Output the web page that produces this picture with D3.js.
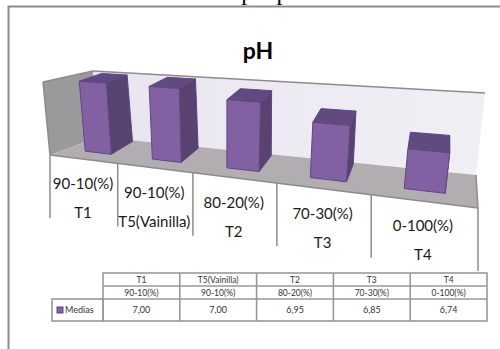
<!DOCTYPE html>
<html>
<head>
<meta charset="utf-8">
<script src="https://cdn.jsdelivr.net/npm/d3@7"></script>
<style>
    html, body { margin: 0; padding: 0; background: #fff; overflow: hidden; }
    svg { display: block; }
    text { font-family: Lato, "Open Sans", sans-serif; }
</style>
</head>
<body>
<div id="chart"></div>
<script>
const tratamientos = ["T1", "T5(Vainilla)", "T2", "T3", "T4"];
const proporciones = ["90-10(%)", "90-10(%)", "80-20(%)", "70-30(%)", "0-100(%)"];
const medias = [7.00, 7.00, 6.95, 6.85, 6.74];
const mediasTexto = ["7,00", "7,00", "6,95", "6,85", "6,74"];
const serie = "Medias";
const titulo = "pH";
const encabezado = "Gráfico 4. Análisis de pH para cada tratamiento";

const width = 500, height = 349;

let svg = d3.select("#chart").append("svg")
    .attr("width", width)
    .attr("height", height);

// scales, both run 0..1 and go through project() below
let u = d3.scaleBand().domain(tratamientos).range([0, 1]).paddingInner(0.6).paddingOuter(0.3);
let uEje = d3.scaleBand().domain(tratamientos).range([0, 1]);
let h = d3.scaleLinear().domain([6.5, 7.01]).range([0, 1]);

// corners of the 3d box as they land on screen
const floorFL = [50, 155], floorFR = [478, 208], floorBL = [100, 137], floorBR = [476, 175];
const topFL = [43, 82], topFR = [490, 118], topBL = [93, 71], topBR = [485, 93];

const lerp = (a, b, t) => [a[0] + (b[0] - a[0]) * t, a[1] + (b[1] - a[1]) * t];
const bilerp = (fl, fr, bl, br, t, d) => lerp(lerp(fl, fr, t), lerp(bl, br, t), d);

// x gets closer to the viewer on the right
const k = 1.33;
const curve = x => x / (k - (k - 1) * x);

function place(t, d, z) {
    return lerp(bilerp(floorFL, floorFR, floorBL, floorBR, t, d),
                bilerp(topFL, topFR, topBL, topBR, t, d), z);
}
const project = (x, d, z) => place(curve(x), d, z);

// bars lean a bit less to the right going back than the box does
const d0 = 0.33, d1 = 0.95;
function projectBar(x, d, z) {
    let t = curve(x);
    return place(t - 0.03 * (d - d0) * (1 - t), d, z);
}

const poly = pts => pts.map(p => p.join(",")).join(" ");

// header line cut off by the page edge
svg.append("text")
    .attr("x", 26)
    .attr("y", 0)
    .style("font-family", "'Liberation Serif', serif")
    .style("font-size", "24px")
    .text(encabezado);

// outer frame
svg.append("path")
    .attr("d", `M8.5,${height} V6.5 H${width}`)
    .attr("fill", "none")
    .attr("stroke", "#8c8c8c")
    .attr("stroke-width", 2);

svg.append("text")
    .attr("x", 258)
    .attr("y", 59)
    .attr("text-anchor", "middle")
    .style("font-size", "23px")
    .style("font-weight", "bold")
    .text(titulo);

// walls and floor
let defs = svg.append("defs");
let grad = defs.append("linearGradient").attr("id", "fondo");
grad.append("stop").attr("offset", "0%").attr("stop-color", "#e8e5ee");
grad.append("stop").attr("offset", "100%").attr("stop-color", "#f1eff6");

svg.append("polygon")
    .attr("points", poly([topFL, topBL, floorBL, floorFL]))
    .attr("fill", "#9a999b");
svg.append("polygon")
    .attr("points", poly([topBL, topBR, floorBR, floorBL]))
    .attr("fill", "url(#fondo)");
svg.append("polygon")
    .attr("points", poly([floorFL, floorFR, floorBR, floorBL]))
    .attr("fill", "#b1adb1");

let grey = [[topFL, topBL], [topBL, topBR], [floorFL, floorFR], [floorFR, floorBR], [topFL, floorFL]];
svg.append("g").selectAll("line")
    .data(grey)
    .join("line")
    .attr("x1", d => d[0][0])
    .attr("y1", d => d[0][1])
    .attr("x2", d => d[1][0])
    .attr("y2", d => d[1][1])
    .attr("stroke", "#8c8c8c")
    .attr("stroke-width", 1.5);

// axis ticks hanging off the front of the floor
let ticks = tratamientos.map(c => uEje(c)).concat([1]);
svg.append("g").selectAll("line")
    .data(ticks)
    .join("line")
    .attr("x1", d => project(d, 0, 0)[0])
    .attr("y1", d => project(d, 0, 0)[1])
    .attr("x2", d => project(d, 0, 0)[0])
    .attr("y2", d => project(d, 0, 0)[1] + 63)
    .attr("stroke", "#8c8c8c")
    .attr("stroke-width", 1.5);

let labels = svg.append("g").selectAll("g")
    .data(tratamientos)
    .join("g")
    .attr("transform", d => {
        let p = project(uEje(d) + uEje.bandwidth() / 2, 0, 0);
        return `translate(${p[0]}, ${p[1]})`;
    })
    .style("font-size", "15px")
    .attr("text-anchor", "middle")
    .attr("fill", "#1a1a1a");
labels.append("text").attr("y", 30).text((d, i) => proporciones[i]);
labels.append("text").attr("y", 59).text(d => d);

// bars
let bars = svg.append("g").selectAll("g")
    .data(tratamientos)
    .join("g")
    .attr("stroke", "#5f4687")
    .attr("stroke-width", 1)
    .attr("stroke-linejoin", "round");

bars.each(function (c, i) {
    let g = d3.select(this);
    let a = u(c), b = u(c) + u.bandwidth(), z = h(medias[i]);
    g.append("polygon")
        .attr("points", poly([projectBar(b, d0, 0), projectBar(b, d1, 0), projectBar(b, d1, z), projectBar(b, d0, z)]))
        .attr("fill", "#584270");
    g.append("polygon")
        .attr("points", poly([projectBar(a, d0, z), projectBar(b, d0, z), projectBar(b, d1, z), projectBar(a, d1, z)]))
        .attr("fill", "#604a7f");
    g.append("polygon")
        .attr("points", poly([projectBar(a, d0, 0), projectBar(b, d0, 0), projectBar(b, d0, z), projectBar(a, d0, z)]))
        .attr("fill", "#8161a2");
});

// data table
let tx = d3.scaleBand().domain(tratamientos).range([103, 487]);
let ty = d3.scaleOrdinal().domain(["trat", "prop", "val", "end"]).range([273, 286, 299, 321]);
let tabla = svg.append("g").attr("stroke", "#999999").attr("stroke-width", 1.6).attr("fill", "none");

tabla.append("rect").attr("x", 103).attr("y", ty("trat")).attr("width", 384).attr("height", ty("end") - ty("trat"));
tabla.append("rect").attr("x", 52).attr("y", ty("val")).attr("width", 51).attr("height", ty("end") - ty("val"));
["prop", "val"].forEach(r => {
    tabla.append("line").attr("x1", 103).attr("x2", 487).attr("y1", ty(r)).attr("y2", ty(r));
});
tabla.selectAll(".col")
    .data(tratamientos.slice(1))
    .join("line")
    .attr("class", "col")
    .attr("x1", d => tx(d))
    .attr("x2", d => tx(d))
    .attr("y1", ty("trat"))
    .attr("y2", ty("end"));

let celdas = svg.append("g").selectAll("g")
    .data(tratamientos)
    .join("g")
    .attr("transform", d => `translate(${tx(d) + tx.bandwidth() / 2}, 0)`)
    .attr("text-anchor", "middle")
    .attr("fill", "#333");
celdas.append("text").attr("y", 283).style("font-size", "8.5px").text(d => d);
celdas.append("text").attr("y", 296).style("font-size", "8.5px").text((d, i) => proporciones[i]);
celdas.append("text").attr("y", 313).style("font-size", "9px").text((d, i) => mediasTexto[i]);

svg.append("rect")
    .attr("x", 57).attr("y", 307).attr("width", 6).attr("height", 6)
    .attr("fill", "#8161a2").attr("stroke", "#5f4687");
svg.append("text")
    .attr("x", 65).attr("y", 313)
    .attr("fill", "#333")
    .style("font-size", "9px")
    .text(serie);
</script>
</body>
</html>
